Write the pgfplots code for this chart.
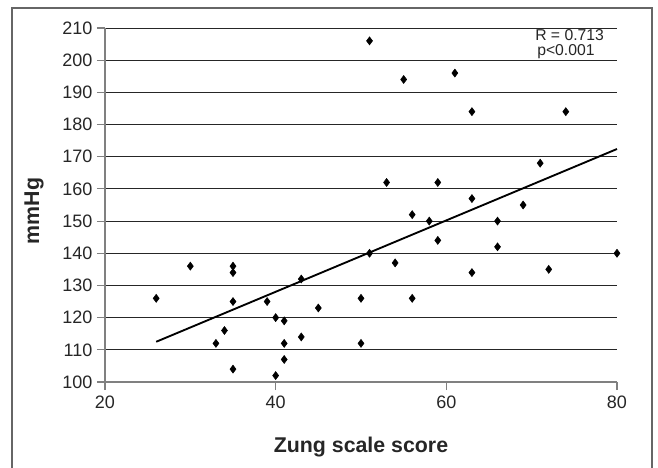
\documentclass[border=0pt]{standalone}
\usepackage{fontspec}
\setmainfont{Liberation Sans}
\usepackage{pgfplots}
\pgfplotsset{compat=1.18}
\usepackage{pgfplotstable}

% Zung scale score vs. mmHg
\pgfplotstableread{
x   y
26  126
30  136
33  112
34  116
35  136
35  134
35  125
35  104
39  125
40  120
40  102
41  119
41  112
41  107
43  132
43  114
45  123
50  126
50  112
51  206
51  140
53  162
54  137
55  194
56  152
56  126
58  150
59  162
59  144
61  196
63  184
63  157
63  134
66  150
66  142
69  155
71  168
72  135
74  184
80  140
}\scores

\begin{document}
\begin{tikzpicture}
\begin{axis}[
    at={(0,0)}, anchor=south west,
    scale only axis,
    width=384pt, height=265.5pt,
    xmin=20, xmax=80, ymin=100, ymax=210,
    xtick={20,40,60,80},
    ytick={100,110,...,210},
    axis lines*=left,
    axis line style={draw=black!50, line width=1pt},
    tick align=outside,
    major tick length=6pt,
    tick style={draw=black!50, line width=0.8pt},
    ymajorgrids,
    grid style={draw=black!85, line width=0.7pt},
    /pgf/number format/assume math mode=true,
    ticklabel style={font=\fontsize{13.5}{16}\selectfont, text=black!85},
    xticklabel style={yshift=-1pt},
    xlabel={Zung scale score},
    xlabel style={at={(axis description cs:0.5,0)}, anchor=base, yshift=-53pt,
        font=\fontsize{16}{19}\selectfont\bfseries, text=black!85},
    ylabel={mmHg},
    ylabel style={at={(axis description cs:-0.1387,0.483)}, anchor=center,
        font=\fontsize{16}{19}\selectfont\bfseries, text=black!85},
    clip=false,
]
\addplot[only marks, mark=diamond*, mark size=3pt, black] table[x=x, y=y] {\scores};
\addplot[black, line width=1.4pt] coordinates {(26,112.5) (80,172.4)};
\end{axis}
\node[anchor=base west, font=\fontsize{11.8}{14}\selectfont, text=black!85, inner sep=0pt]
    at (322.5pt,256pt) {R = 0.713};
\node[anchor=base west, font=\fontsize{11.8}{14}\selectfont, text=black!85, inner sep=0pt]
    at (324pt,244.6pt) {p<0.001};
\draw[black!60, line width=1.3pt] (-69.75pt,-64.5pt) -- (-69.75pt,280.5pt)
    -- (410.25pt,280.5pt) -- (410.25pt,-64.5pt);
\pgfresetboundingbox
\path[use as bounding box] (-78.75pt,-64.5pt) rectangle (414.75pt,286.5pt);
\end{tikzpicture}
\end{document}
